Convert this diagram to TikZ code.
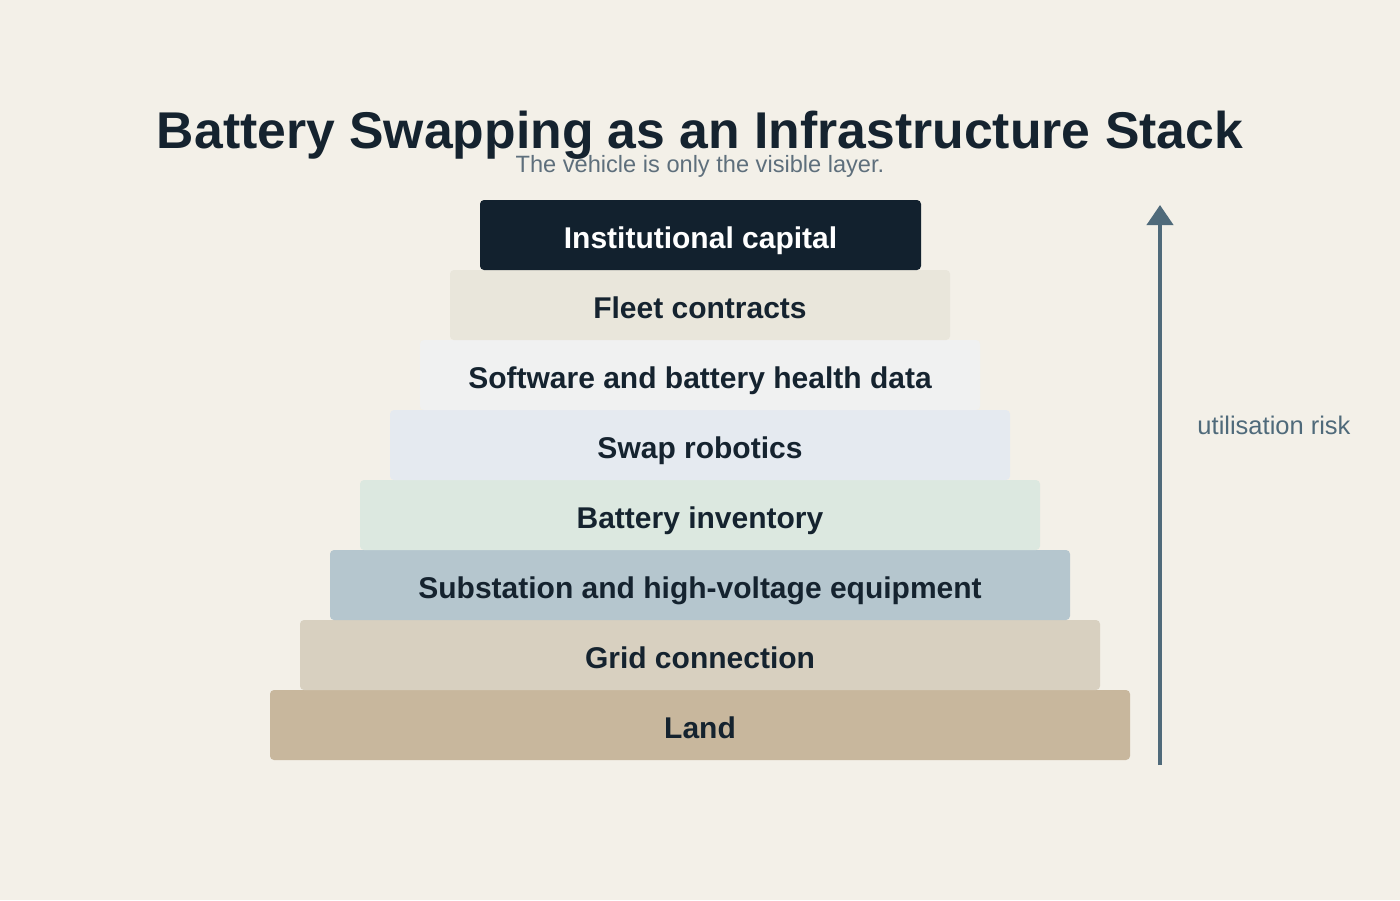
\documentclass[tikz,border=0pt]{standalone}
\usepackage{fontspec}
\setmainfont{Liberation Sans}
\usetikzlibrary{arrows.meta}
\definecolor{bg}{HTML}{F3F0E8}
\definecolor{ink}{HTML}{15232F}
\definecolor{subc}{HTML}{5E6F7C}
\definecolor{arrowc}{HTML}{4F6A7A}
\definecolor{c1}{HTML}{12212E}
\definecolor{c2}{HTML}{E9E6DB}
\definecolor{c3}{HTML}{F0F1F1}
\definecolor{c4}{HTML}{E5EAF0}
\definecolor{c5}{HTML}{DCE8E0}
\definecolor{c6}{HTML}{B5C6CE}
\definecolor{c7}{HTML}{D8D0C0}
\definecolor{c8}{HTML}{C8B79D}
\tikzset{
  layer/.style={rounded corners=4pt, inner sep=0pt, minimum height=70pt,
    text height=27pt, text depth=1pt,
    text=ink, font=\fontsize{30}{34}\selectfont\bfseries},
}
\begin{document}
\begin{tikzpicture}[x=1pt,y=-1pt]
\fill[bg] (0,0) rectangle (1400,900);
\useasboundingbox (0,0) rectangle (1400,900);
\node[text=ink, font=\fontsize{51.7}{60}\selectfont\bfseries, anchor=base] (title) at (700,148) {Battery Swapping as an Infrastructure Stack};
\node[text=subc, font=\fontsize{23.6}{28}\selectfont, anchor=base] (sub) at (700,172) {The vehicle is only the visible layer.};
\node[layer, fill=c8, minimum width=860pt] (l8) at (700,725) {Land};
\node[layer, fill=c7, minimum width=800pt] (l7) at (700,655) {Grid connection};
\node[layer, fill=c6, minimum width=740pt] (l6) at (700,585) {Substation and high-voltage equipment};
\node[layer, fill=c5, minimum width=680pt] (l5) at (700,515) {Battery inventory};
\node[layer, fill=c4, minimum width=620pt] (l4) at (700,445) {Swap robotics};
\node[layer, fill=c3, minimum width=560pt] (l3) at (700,375) {Software and battery health data};
\node[layer, fill=c2, minimum width=500pt] (l2) at (700,305) {Fleet contracts};
\node[layer, fill=c1, minimum width=441pt, text=white] (l1) at (700.5,235) {Institutional capital};
\coordinate (abot) at (1160,765);
\coordinate (atop) at (1160,205);
\draw[arrowc, line width=4pt, -{Triangle[width=26pt,length=20pt]}] (abot) -- (atop);
\node[text=arrowc, font=\fontsize{25.5}{30}\selectfont] (risk) at (1274,425) {utilisation risk};
\end{tikzpicture}
\end{document}
